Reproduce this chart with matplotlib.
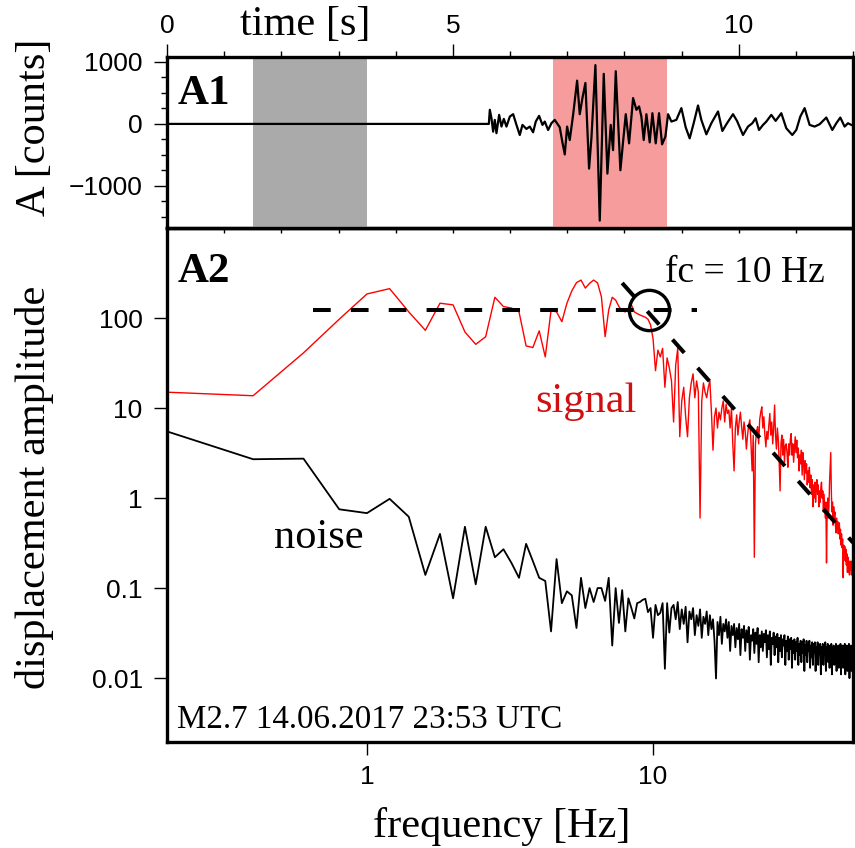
import numpy as np
import matplotlib.pyplot as plt

plt.rcParams['font.family'] = ['Liberation Serif', 'DejaVu Serif']

# --- A1: waveform (time [s], counts) ---
t_wave = [0, 5.63, 5.647, 5.676, 5.705, 5.734, 5.763, 5.81, 5.851, 5.892, 5.938,
          5.997, 6.055, 6.113, 6.171, 6.218, 6.288, 6.346, 6.404, 6.451, 6.509,
          6.568, 6.608, 6.667, 6.725, 6.783, 6.87, 6.917, 6.958, 6.999, 7.045,
          7.104, 7.174, 7.22, 7.267, 7.319, 7.383, 7.424, 7.494, 7.57, 7.64,
          7.704, 7.762, 7.803, 7.85, 7.931, 7.978, 8.025, 8.083, 8.153, 8.211,
          8.258, 8.298, 8.339, 8.386, 8.444, 8.491, 8.549, 8.607, 8.66, 8.718,
          8.765, 8.823, 8.91, 8.998, 9.073, 9.143, 9.213, 9.289, 9.347, 9.435,
          9.522, 9.639, 9.715, 9.796, 9.901, 9.971, 10.076, 10.163, 10.239, 10.297,
          10.356, 10.426, 10.484, 10.571, 10.647, 10.746, 10.833, 10.938, 11.008, 11.078,
          11.154, 11.241, 11.329, 11.416, 11.533, 11.638, 11.708, 11.778, 11.853, 11.912,
          11.97]
a_wave = [0, 0, 228, 92, -125, 65, -150, 146, -43, 81, -43,
          119, 157, -16, -179, -16, -81, -43, -135, 38, 130,
          -16, 38, -98, 11, 65, -54, -298, -493, -43, -260,
          146, 699, 157, 417, 661, -721, -233, 949, -1561, 808,
          -802, -16, -423, 851, -748, -287, 157, -314, 417, 228,
          282, 119, -260, 157, -298, 173, -314, 173, -330, -206,
          157, 38, 65, 255, -54, -233, 11, 298, 65, -168,
          11, 201, -114, 11, 157, 49, -179, -43, 11, 92,
          -98, -16, 38, 146, 49, 173, -70, -179, -98, 119,
          255, -16, -43, -5, 103, -98, 11, 103, -43, 11,
          -16]
noise_win = (1.5, 3.5)
signal_win = (6.75, 8.75)

# --- A2: displacement spectra, 0.2 Hz bins from 0.2 to 50 Hz ---
df = 0.2
freq = df * np.arange(1, 251)
signal = [
    15, 13.7, 41, 97, 185, 212, 117, 73, 146, 140,
    70, 51, 62, 170, 134, 129, 117, 49, 47, 72,
    37, 121, 117, 91, 146, 200, 247, 264, 215, 243,
    264, 245, 172, 62, 123, 170, 158, 134, 120, 117,
    125, 140, 117, 112, 108, 105, 102, 97, 84, 59,
    26, 44, 37, 46, 17, 36, 28, 20, 7.0, 30,
    46, 4.8, 12, 17, 8, 4.8, 13, 19, 24, 13,
    20, 15, 0.6, 12, 19, 15, 13, 17, 20, 9,
    3.4, 8, 10, 6, 9, 7.4, 10, 12, 7, 11,
    8.7, 9.5, 6, 10, 4, 2.0, 6, 8.4, 5, 7,
    9, 6.2, 4.5, 7, 5.5, 3.5, 5, 6.5, 7.4, 4,
    2.0, 5, 0.22, 4, 5.5, 6.2, 4, 7.5, 9, 10.3,
    6, 8, 5, 3.7, 5.5, 4.5, 6.5, 8.7, 5, 7,
    4, 6, 10.8, 5, 3.5, 6, 4.5, 2.5, 1.2, 4,
    5, 3, 4.5, 2.5, 3.8, 4, 3.2, 2.2, 4, 3,
    4.5, 5.2, 3, 4, 2.5, 3.5, 4.8, 3.2, 4.4, 2.8,
    3.6, 2, 3, 2.4, 3.4, 1.8, 3.2, 2.5, 1.6, 2.6,
    1.9, 2.4, 1.4, 2, 1.5, 2.2, 1.3, 1.8, 1.1, 1.6,
    0.8, 1.4, 1.0, 1.5, 0.9, 1.3, 1.6, 1.1, 1.4, 0.8,
    1.2, 0.9, 1.3, 1.5, 1.0, 1.2, 0.7, 1.1, 0.8, 0.6,
    0.9, 0.19, 0.7, 1.0, 0.6, 0.8, 1.5, 2.2, 3.2, 1.2,
    0.7, 0.9, 0.5, 0.8, 0.6, 0.7, 0.5, 0.41, 0.6, 0.45,
    0.55, 0.4, 0.5, 0.53, 0.35, 0.45, 0.3, 0.4, 0.28, 0.35,
    0.13, 0.3, 0.25, 0.29, 0.2, 0.27, 0.18, 0.24, 0.15, 0.22,
    0.15, 0.2, 0.14, 0.19, 0.16, 0.2, 0.14, 0.18, 0.15, 0.17,
]
noise = [
    5.5, 2.7, 2.74, 0.75, 0.68, 0.98, 0.62, 0.14, 0.40, 0.077,
    0.48, 0.11, 0.48, 0.22, 0.27, 0.19, 0.13, 0.31, 0.2, 0.13,
    0.12, 0.033, 0.21, 0.068, 0.092, 0.083, 0.036, 0.13, 0.06, 0.10,
    0.07, 0.10, 0.10, 0.072, 0.13, 0.023, 0.10, 0.041, 0.095, 0.033,
    0.077, 0.06, 0.046, 0.068, 0.07, 0.074, 0.076, 0.054, 0.06, 0.028,
    0.065, 0.05, 0.053, 0.068, 0.0127, 0.068, 0.032, 0.06, 0.065, 0.045,
    0.07, 0.035, 0.058, 0.04, 0.062, 0.025, 0.055, 0.045, 0.06, 0.03,
    0.05, 0.038, 0.058, 0.028, 0.048, 0.04, 0.055, 0.03, 0.05, 0.035,
    0.045, 0.026, 0.0099, 0.042, 0.03, 0.048, 0.024, 0.04, 0.033, 0.045,
    0.028, 0.042, 0.02, 0.038, 0.03, 0.04, 0.022, 0.036, 0.027, 0.04,
    0.018, 0.035, 0.028, 0.038, 0.02, 0.034, 0.025, 0.037, 0.016, 0.03,
    0.026, 0.035, 0.019, 0.032, 0.024, 0.036, 0.015, 0.03, 0.022, 0.033,
    0.02, 0.031, 0.025, 0.034, 0.017, 0.03, 0.021, 0.033, 0.014, 0.028,
    0.024, 0.032, 0.018, 0.029, 0.022, 0.031, 0.015, 0.028, 0.02, 0.03,
    0.017, 0.027, 0.023, 0.03, 0.014, 0.026, 0.02, 0.029, 0.016, 0.027,
    0.021, 0.028, 0.013, 0.026, 0.019, 0.027, 0.016, 0.025, 0.02, 0.028,
    0.014, 0.024, 0.018, 0.026, 0.015, 0.025, 0.019, 0.027, 0.012, 0.023,
    0.018, 0.026, 0.015, 0.024, 0.02, 0.026, 0.013, 0.023, 0.017, 0.025,
    0.014, 0.024, 0.019, 0.025, 0.012, 0.022, 0.017, 0.025, 0.014, 0.023,
    0.019, 0.024, 0.011, 0.022, 0.017, 0.024, 0.014, 0.023, 0.018, 0.025,
    0.012, 0.022, 0.016, 0.024, 0.015, 0.023, 0.013, 0.021, 0.017, 0.024,
    0.011, 0.022, 0.016, 0.023, 0.014, 0.022, 0.018, 0.024, 0.012, 0.021,
    0.015, 0.023, 0.013, 0.022, 0.017, 0.024, 0.011, 0.021, 0.016, 0.023,
    0.013, 0.022, 0.017, 0.024, 0.011, 0.021, 0.015, 0.023, 0.012, 0.022,
    0.016, 0.024, 0.01, 0.021, 0.014, 0.023, 0.012, 0.022, 0.015, 0.02,
]
# fitted source model: plateau, high-frequency decay, corner frequency
plateau_f = [0.65, 14.2]
plateau_a = [123, 123]
decay_f = [7.8, 50]
decay_a = [245, 0.32]
fc = 9.7
fc_amp = 123

W, H = 855, 848
fig = plt.figure(figsize=(W / 100, H / 100), dpi=100)


def px_axes(left, top, right, bottom):
    return fig.add_axes([left / W, 1 - bottom / H, (right - left) / W, (bottom - top) / H])


ax1 = px_axes(167, 57, 853, 228)
ax2 = px_axes(167, 228, 853, 742)
ax1.set_zorder(3)

frame_lw = 2.4
tick_kw = dict(direction='out', width=1.0, labelsize=19, labelfontfamily='Liberation Sans')

# ---- A1 ----
ax1.axvspan(*noise_win, color='#aaaaaa', lw=0)
ax1.axvspan(*signal_win, color='#f69c9c', lw=0)
ax1.plot(t_wave, a_wave, color='black', lw=1.6)
ax1.set_xlim(0, 12)
ax1.set_ylim(-1680, 1080)
ax1.set_xticks([0, 5, 10])
ax1.set_xticks(np.arange(0, 13), minor=True)
ax1.set_yticks([-1000, 0, 1000])
ax1.set_yticks(np.arange(-1500, 1001, 250), minor=True)
ax1.xaxis.set_ticks_position('top')
ax1.tick_params(axis='x', which='both', top=True, bottom=False, labeltop=True, labelbottom=False)
ax1.tick_params(axis='y', which='both', left=True, right=True)
ax1.tick_params(which='major', length=9.5, pad=4, **tick_kw)
ax1.tick_params(which='minor', length=4.5, direction='out', width=1.0)
ax1.tick_params(axis='y', which='major', pad=8)
sec = ax1.secondary_xaxis('bottom')
sec.set_xticks(np.arange(0, 13))
sec.tick_params(direction='out', length=3.5, width=1.0, labelbottom=False)
sec.spines['bottom'].set_linewidth(frame_lw)
for s in ax1.spines.values():
    s.set_linewidth(frame_lw)
ax1.text(0.016, 0.725, 'A1', transform=ax1.transAxes, fontsize=31,
         fontweight='bold', va='baseline', ha='left')

# ---- A2 ----
ax2.plot(freq, noise, color='black', lw=1.3)
ax2.plot(freq, signal, color='#ff0000', lw=1.0)
dash = dict(color='black', lw=2.9, dashes=(4.4, 5.0))
ax2.plot(plateau_f, plateau_a, **dash)
ax2.plot(decay_f, decay_a, **dash)
ax2.plot([fc], [fc_amp], marker='o', ms=29, mfc='none', mec='black', mew=2.4)
ax2.set_xscale('log')
ax2.set_yscale('log')
ax2.set_xlim(0.2, 50)
ax2.set_ylim(0.00195, 1000)
ax2.set_xticks([1, 10], labels=['1', '10'])
ax2.set_yticks([0.01, 0.1, 1, 10, 100], labels=['0.01', '0.1', '1', '10', '100'])
ax2.minorticks_off()
ax2.tick_params(axis='x', top=False, bottom=True)
ax2.tick_params(axis='y', left=True, right=True)
ax2.tick_params(length=9.5, pad=7, **tick_kw)
ax2.tick_params(axis='y', pad=8)
for s in ax2.spines.values():
    s.set_linewidth(frame_lw)

ax2.text(0.016, 0.895, 'A2', transform=ax2.transAxes, fontsize=31,
         fontweight='bold', va='baseline', ha='left')
ax2.text(11.0, 253, 'fc = 10 Hz', fontsize=27, va='baseline', ha='left')
ax2.text(3.87, 9.1, 'signal', fontsize=30.5, color='#d01010', va='baseline', ha='left')
ax2.text(0.473, 0.28, 'noise', fontsize=30.5, color='black', va='baseline', ha='left')
ax2.text(0.0146, 0.027, 'M2.7 14.06.2017 23:53 UTC', transform=ax2.transAxes,
         fontsize=23.8, va='baseline', ha='left')

# axis titles
fig.text(305.5 / W, 1 - 35 / H, 'time [s]', fontsize=30.5, ha='center', va='baseline')
fig.text(501.5 / W, 1 - 837 / H, 'frequency [Hz]', fontsize=30.5, ha='center', va='baseline')
fig.text(35 / W, 1 - 127 / H, 'A [counts]', fontsize=30.5, rotation=90, ha='center', va='center')
fig.text(35 / W, 1 - 487 / H, 'displacement amplitude', fontsize=30.5, rotation=90,
         ha='center', va='center')

fig.savefig('out.png', dpi=100)
